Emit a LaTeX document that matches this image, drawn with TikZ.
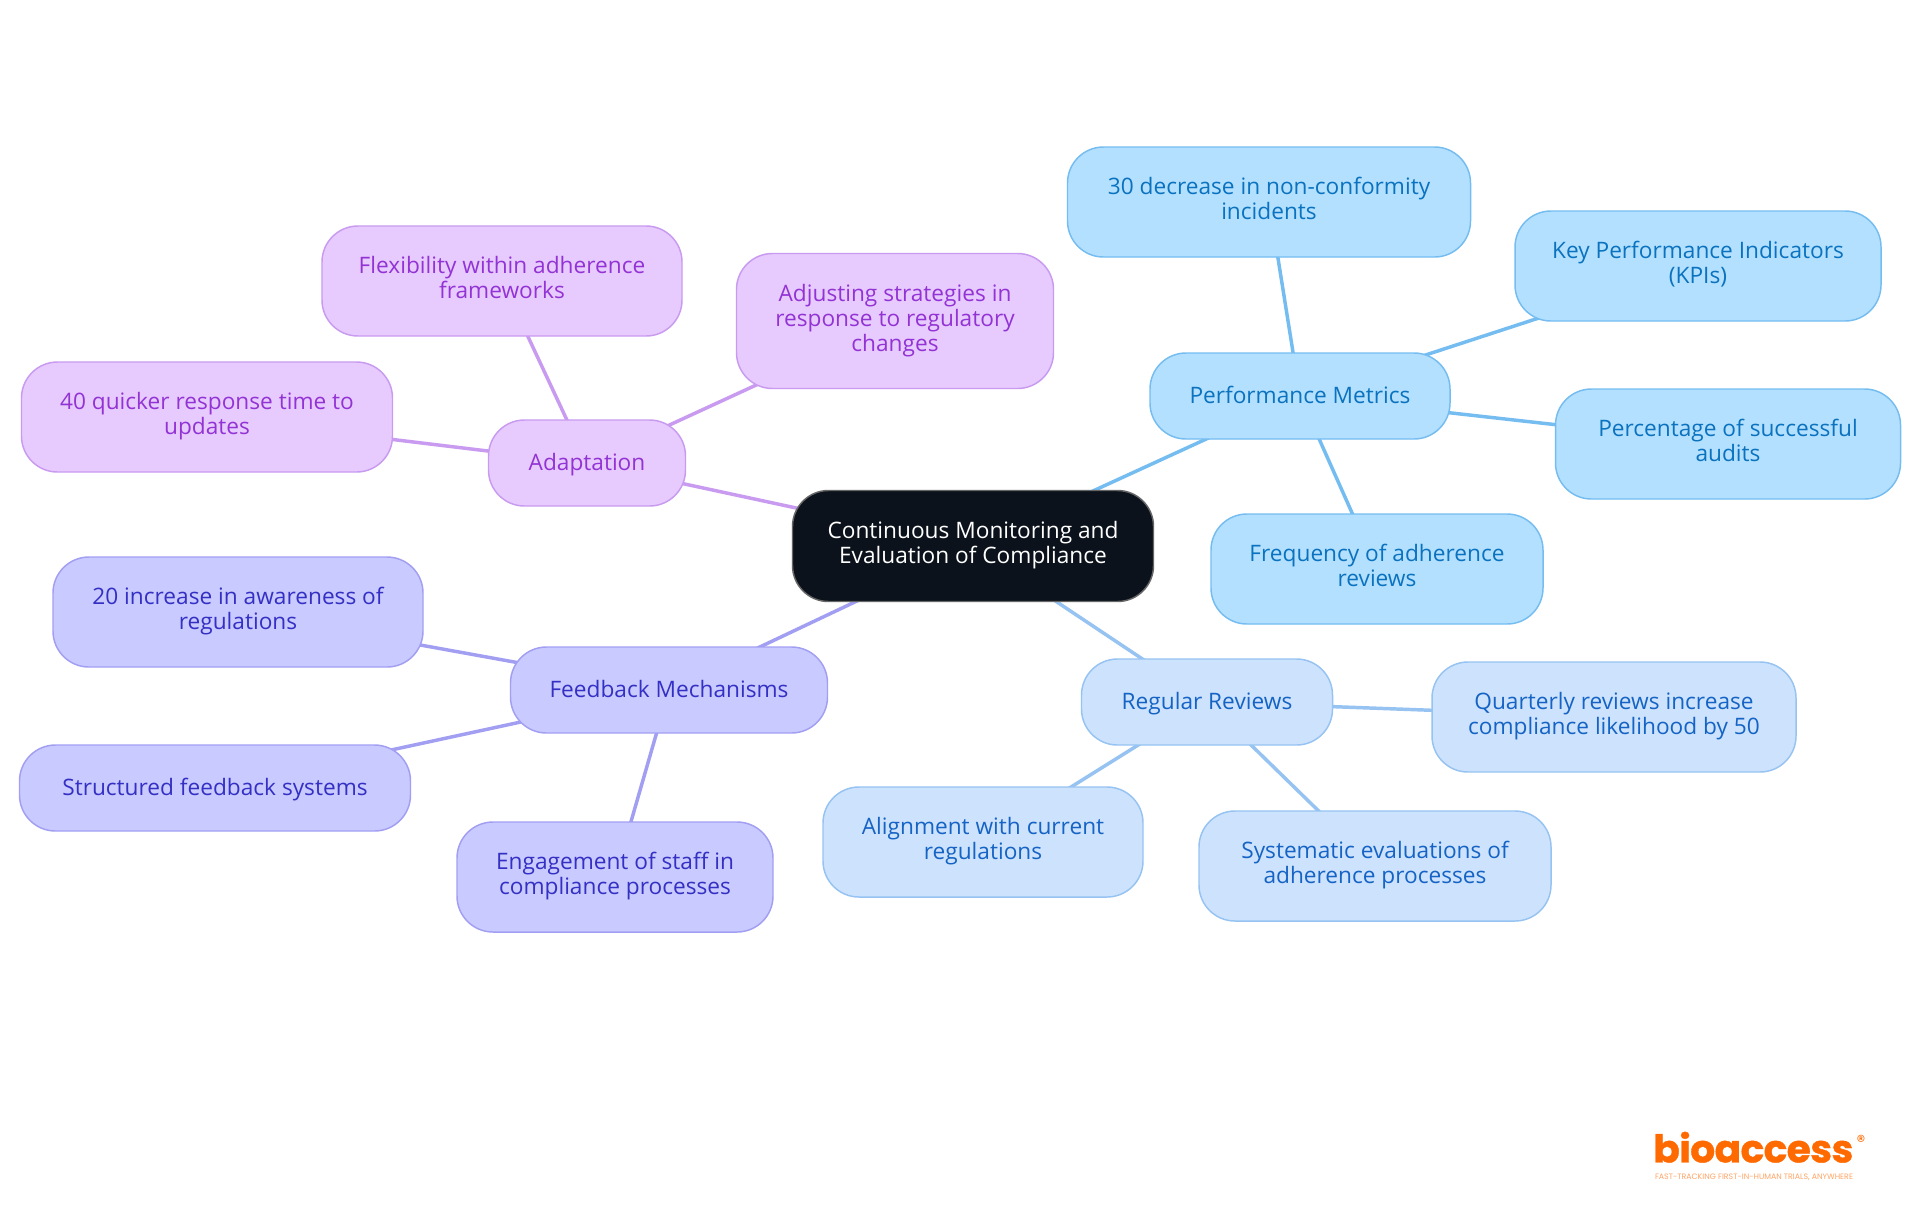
\documentclass[tikz,border=0pt]{standalone}
\usepackage{fontspec}
\setmainfont{Open Sans}
\newfontfamily\logofont{Poppins}
\newfontfamily\logoheavy[LetterSpace=-1.5,FakeBold=1]{Poppins Bold}
\usetikzlibrary{backgrounds}
\definecolor{cdark}{HTML}{0B121B}
\definecolor{pmfill}{HTML}{B3E0FF}\definecolor{pmline}{HTML}{75BDF0}\definecolor{pmtext}{HTML}{0A72BE}
\definecolor{rrfill}{HTML}{CDE3FD}\definecolor{rrline}{HTML}{96C3F1}\definecolor{rrtext}{HTML}{1563C4}
\definecolor{fmfill}{HTML}{C9CAFF}\definecolor{fmline}{HTML}{A29FF2}\definecolor{fmtext}{HTML}{3430C4}
\definecolor{adfill}{HTML}{E7CBFF}\definecolor{adline}{HTML}{C99BF0}\definecolor{adtext}{HTML}{9333D4}
\definecolor{logoc}{HTML}{FF6A00}
\tikzset{
  x=0.75pt,y=-0.75pt,
  mm/.style={rounded corners=27pt,align=center,font=\fontsize{17pt}{18.75pt}\selectfont,inner sep=0pt,line width=1.1pt,
    execute at begin node={\rule{0pt}{16pt}},execute at end node={\rule[-5.2pt]{0pt}{5.2pt}}},
  central/.style={mm,fill=cdark,draw=black!60,text=white},
  pm/.style={mm,fill=pmfill,draw=pmline,text=pmtext},
  rr/.style={mm,fill=rrfill,draw=rrline,text=rrtext},
  fm/.style={mm,fill=fmfill,draw=fmline,text=fmtext},
  ad/.style={mm,fill=adfill,draw=adline,text=adtext},
  link/.style={line width=2.6pt},
  bx/.style n args={2}{minimum width=#1*0.75pt,minimum height=#2*0.75pt}
}
\begin{document}
\begin{tikzpicture}
\useasboundingbox (0,0) rectangle (1920,1215);
\node[central,bx={361}{111}] (c) at (973,546) {Continuous Monitoring and\\Evaluation of Compliance};
\node[pm,bx={300}{86}] (pm) at (1300,396) {Performance Metrics};
\node[pm,bx={403}{110}] (p1) at (1269,202) {30 decrease in non-conformity\\incidents};
\node[pm,bx={366}{110}] (p2) at (1698,266) {Key Performance Indicators\\(KPIs)};
\node[pm,bx={345}{110}] (p3) at (1728,444) {Percentage of successful\\audits};
\node[pm,bx={332}{110}] (p4) at (1377,569) {Frequency of adherence\\reviews};
\node[rr,bx={251}{86}] (rr) at (1207,702) {Regular Reviews};
\node[rr,bx={364}{110}] (r1) at (1614,717) {Quarterly reviews increase\\compliance likelihood by 50};
\node[rr,bx={320}{110}] (r2) at (983,842) {Alignment with current\\regulations};
\node[rr,bx={352}{110}] (r3) at (1375,866) {Systematic evaluations of\\adherence processes};
\node[fm,bx={317}{86}] (fm) at (669,690) {Feedback Mechanisms};
\node[fm,bx={370}{110}] (f1) at (238,612) {20 increase in awareness of\\regulations};
\node[fm,bx={391}{86}] (f2) at (215,788) {Structured feedback systems};
\node[fm,bx={316}{110}] (f3) at (615,877) {Engagement of staff in\\compliance processes};
\node[ad,bx={197}{86}] (ad) at (587,463) {Adaptation};
\node[ad,bx={360}{110}] (a1) at (502,281) {Flexibility within adherence\\frameworks};
\node[ad,bx={317}{135}] (a2) at (895,321) {Adjusting strategies in\\response to regulatory\\changes};
\node[ad,bx={371}{110}] (a3) at (207,417) {40 quicker response time to\\updates};
\begin{scope}[on background layer]
\fill[white] (0,0) rectangle (1920,1215);
\draw[link,pmline] (c.center)--(pm.center);
\draw[link,pmline] (pm.center)--(p1.center);
\draw[link,pmline] (pm.center)--(p2.center);
\draw[link,pmline] (pm.center)--(p3.center);
\draw[link,pmline] (pm.center)--(p4.center);
\draw[link,rrline] (c.center)--(rr.center);
\draw[link,rrline] (rr.center)--(r1.center);
\draw[link,rrline] (rr.center)--(r2.center);
\draw[link,rrline] (rr.center)--(r3.center);
\draw[link,fmline] (c.center)--(fm.center);
\draw[link,fmline] (fm.center)--(f1.center);
\draw[link,fmline] (fm.center)--(f2.center);
\draw[link,fmline] (fm.center)--(f3.center);
\draw[link,adline] (c.center)--(ad.center);
\draw[link,adline] (ad.center)--(a1.center);
\draw[link,adline] (ad.center)--(a2.center);
\draw[link,adline] (ad.center)--(a3.center);
\end{scope}
\node[inner sep=0pt,text=logoc,anchor=south west] (logo) at (1653,1163) {\resizebox{150pt}{23pt}{\logoheavy bioaccess}};
\node[inner sep=0pt,text=logoc,anchor=center,font=\logofont\fontsize{13pt}{13pt}\selectfont] (reg) at (1861,1141) {®};
\node[inner sep=0pt,text=logoc!60,anchor=center] (tag) at (1754,1177) {\resizebox{148.5pt}{!}{\logofont FAST-TRACKING FIRST-IN-HUMAN TRIALS, ANYWHERE}};
\end{tikzpicture}
\end{document}
